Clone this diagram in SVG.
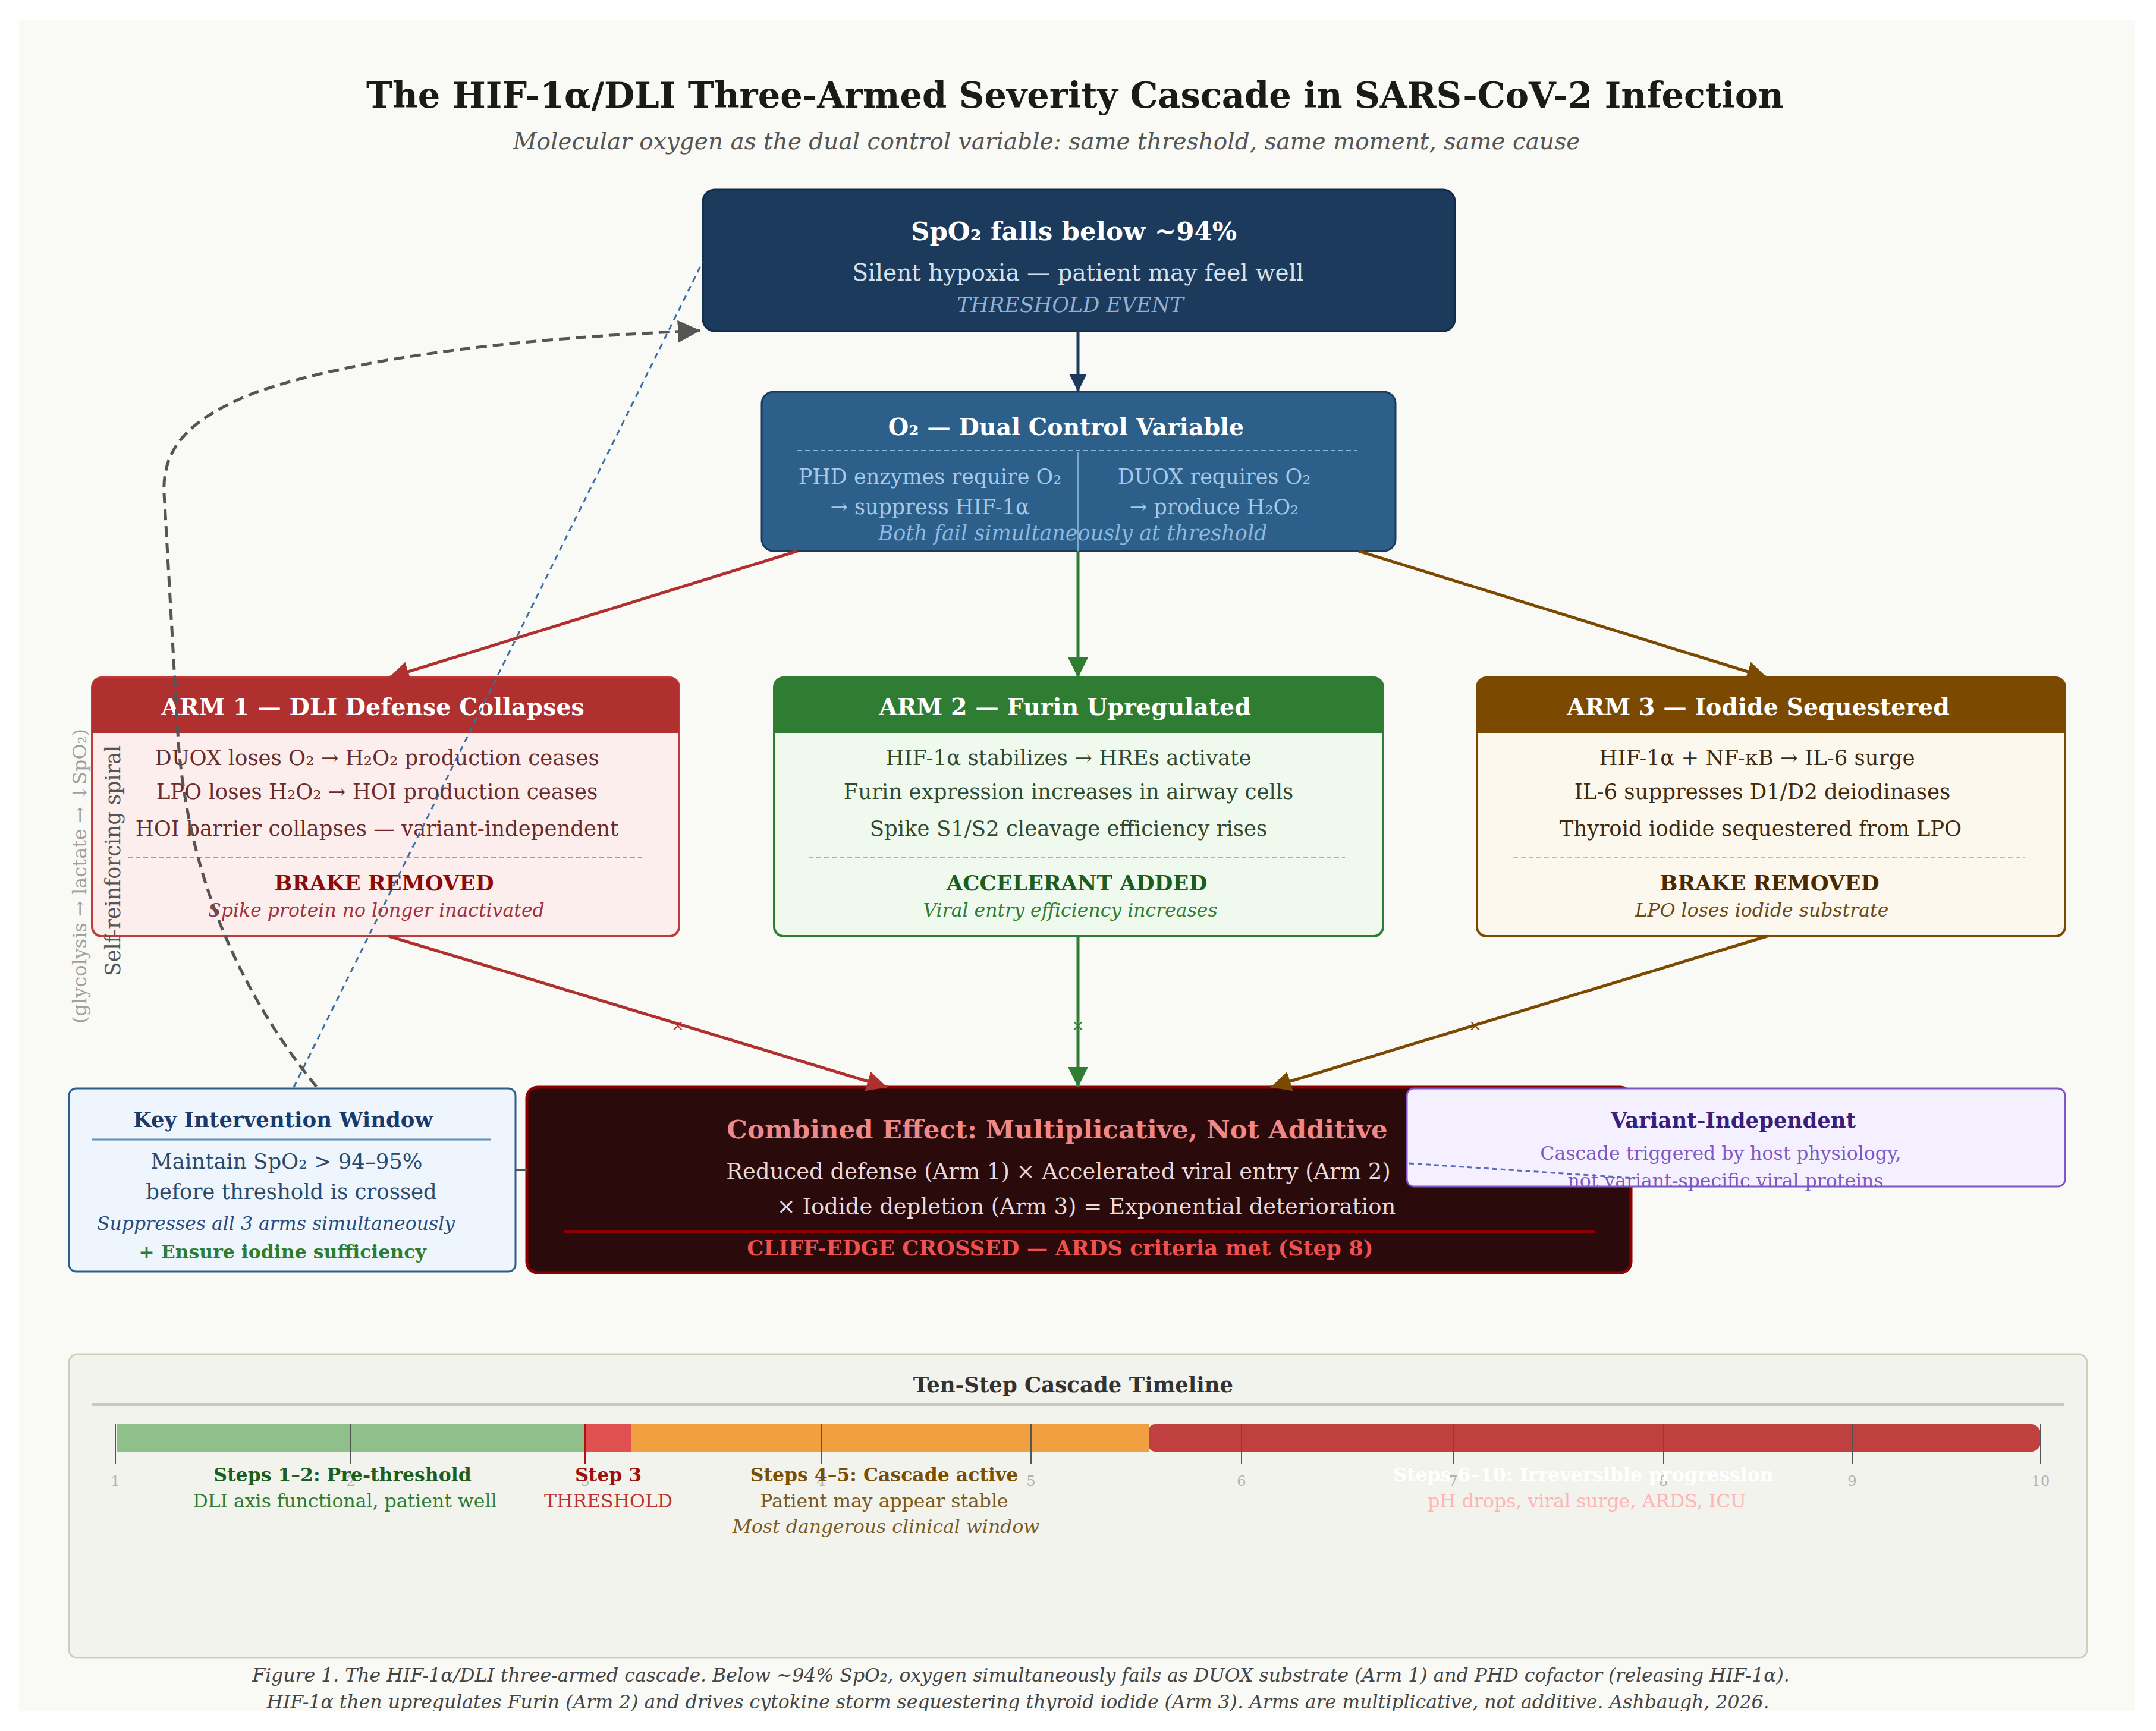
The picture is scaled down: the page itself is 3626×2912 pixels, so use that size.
<svg xmlns="http://www.w3.org/2000/svg" width="3626" height="2912" viewBox="0 0 3626 2912">
<defs>
<style>
text{font-family:"DejaVu Serif","Liberation Serif",serif;text-anchor:middle;}
.b{font-weight:bold;}
.i{font-style:italic;}
.hdr{font-size:39.5px;font-weight:bold;fill:#ffffff;}
.body{font-size:35.5px;}
.tag{font-size:35.5px;font-weight:bold;}
.sub{font-size:31.5px;font-style:italic;}
.tl{font-size:31.5px;}
.tick{font-size:24px;fill:#b0b0b0;}
.ax{stroke:#555;stroke-width:2;}
</style>
<marker id="mNavy" viewBox="0 0 10 10" refX="10" refY="5" markerWidth="30" markerHeight="30" markerUnits="userSpaceOnUse" orient="auto"><path d="M0,0 L10,5 L0,10 z" fill="#1b3a5c"/></marker>
<marker id="mRed" viewBox="0 0 10 10" refX="10" refY="5" markerWidth="34" markerHeight="34" markerUnits="userSpaceOnUse" orient="auto"><path d="M0,0 L10,5 L0,10 z" fill="#b03030"/></marker>
<marker id="mGreen" viewBox="0 0 10 10" refX="10" refY="5" markerWidth="34" markerHeight="34" markerUnits="userSpaceOnUse" orient="auto"><path d="M0,0 L10,5 L0,10 z" fill="#2e7d32"/></marker>
<marker id="mBrown" viewBox="0 0 10 10" refX="10" refY="5" markerWidth="34" markerHeight="34" markerUnits="userSpaceOnUse" orient="auto"><path d="M0,0 L10,5 L0,10 z" fill="#7b4a00"/></marker>
<marker id="mGray" viewBox="0 0 10 10" refX="10" refY="5" markerWidth="38" markerHeight="38" markerUnits="userSpaceOnUse" orient="auto"><path d="M0,0 L10,5 L0,10 z" fill="#555555"/></marker>
<clipPath id="panelClip"><rect x="32" y="33" width="3558" height="2845"/></clipPath>
</defs>
<rect width="3626" height="2912" fill="#ffffff"/>
<g clip-path="url(#panelClip)">
<rect x="32" y="33" width="3558" height="2845" fill="#f9f9f6"/>

<text x="1808" y="181" class="b" font-size="59" fill="#1a1a1a">The HIF-1α/DLI Three-Armed Severity Cascade in SARS-CoV-2 Infection</text>
<text x="1760" y="251" class="i" font-size="39" fill="#555555">Molecular oxygen as the dual control variable: same threshold, same moment, same cause</text>

<g id="node-spo2">
<rect x="1182" y="319" width="1265" height="238" rx="20" fill="#1b3a5c" stroke="#112c48" stroke-width="3"/>
<text x="1806" y="404" class="b" font-size="43.5" fill="#ffffff">SpO₂ falls below ~94%</text>
<text x="1813" y="472" font-size="39" fill="#d4e0ec">Silent hypoxia — patient may feel well</text>
<text x="1800" y="525" class="i" font-size="35" fill="#8fb0d8">THRESHOLD EVENT</text>
</g>

<g id="node-o2">
<rect x="1281" y="659" width="1066" height="268" rx="20" fill="#2c5f8a" stroke="#1b3a5c" stroke-width="3"/>
<text x="1793" y="732" class="b" font-size="39.5" fill="#ffffff">O₂ — Dual Control Variable</text>
<line x1="1341" y1="758" x2="2282" y2="758" stroke="#8fb8e0" stroke-width="2" stroke-dasharray="8,5"/>
<line x1="1813" y1="760" x2="1813" y2="927" stroke="#7aa8d0" stroke-width="2"/>
<text x="1564" y="814" font-size="35" fill="#a8c8e8">PHD enzymes require O₂</text>
<text x="1564" y="865" font-size="35" fill="#a8c8e8">→ suppress HIF-1α</text>
<text x="2042" y="814" font-size="35" fill="#a8c8e8">DUOX requires O₂</text>
<text x="2042" y="865" font-size="35" fill="#a8c8e8">→ produce H₂O₂</text>
<text x="1804" y="909" class="i" font-size="35" fill="#8fb8e0">Both fail simultaneously at threshold</text>
</g>

<g id="node-arm1">
<rect x="155" y="1140" width="987" height="435" rx="16" fill="#fdeeee" stroke="#c03a3a" stroke-width="4"/>
<path d="M155,1233 V1156 a16,16 0 0 1 16,-16 H1126 a16,16 0 0 1 16,16 V1233 z" fill="#b03030"/>
<text x="627" y="1203" class="hdr">ARM 1 — DLI Defense Collapses</text>
<text x="634" y="1287" class="body" fill="#6b2b2b">DUOX loses O₂ → H₂O₂ production ceases</text>
<text x="634" y="1344" class="body" fill="#6b2b2b">LPO loses H₂O₂ → HOI production ceases</text>
<text x="634" y="1406" class="body" fill="#6b2b2b">HOI barrier collapses — variant-independent</text>
<line x1="215" y1="1443" x2="1080" y2="1443" stroke="#e08080" stroke-width="2" stroke-dasharray="8,5"/>
<text x="646" y="1498" class="tag" fill="#8b0a0a">BRAKE REMOVED</text>
<text x="633" y="1542" class="sub" fill="#a03040">Spike protein no longer inactivated</text>
</g>

<g id="node-arm2">
<rect x="1302" y="1140" width="1024" height="435" rx="16" fill="#f0f9ee" stroke="#2e7d32" stroke-width="4"/>
<path d="M1302,1233 V1156 a16,16 0 0 1 16,-16 H2310 a16,16 0 0 1 16,16 V1233 z" fill="#2e7d32"/>
<text x="1791" y="1203" class="hdr">ARM 2 — Furin Upregulated</text>
<text x="1797" y="1287" class="body" fill="#2f4a2f">HIF-1α stabilizes → HREs activate</text>
<text x="1797" y="1344" class="body" fill="#2f4a2f">Furin expression increases in airway cells</text>
<text x="1797" y="1406" class="body" fill="#2f4a2f">Spike S1/S2 cleavage efficiency rises</text>
<line x1="1360" y1="1443" x2="2262" y2="1443" stroke="#8fc88f" stroke-width="2" stroke-dasharray="8,5"/>
<text x="1811" y="1498" class="tag" fill="#1b5e20">ACCELERANT ADDED</text>
<text x="1800" y="1542" class="sub" fill="#2e7d32">Viral entry efficiency increases</text>
</g>

<g id="node-arm3">
<rect x="2484" y="1140" width="989" height="435" rx="16" fill="#fdf8ee" stroke="#7b4a00" stroke-width="4"/>
<path d="M2484,1233 V1156 a16,16 0 0 1 16,-16 H3457 a16,16 0 0 1 16,16 V1233 z" fill="#7b4a00"/>
<text x="2957" y="1203" class="hdr">ARM 3 — Iodide Sequestered</text>
<text x="2955" y="1287" class="body" fill="#3e2a10">HIF-1α + NF-κB → IL-6 surge</text>
<text x="2964" y="1344" class="body" fill="#3e2a10">IL-6 suppresses D1/D2 deiodinases</text>
<text x="2961" y="1406" class="body" fill="#3e2a10">Thyroid iodide sequestered from LPO</text>
<line x1="2545" y1="1443" x2="3405" y2="1443" stroke="#e0b070" stroke-width="2" stroke-dasharray="8,5"/>
<text x="2976" y="1498" class="tag" fill="#4a2a00">BRAKE REMOVED</text>
<text x="2963" y="1542" class="sub" fill="#6b4a1a">LPO loses iodide substrate</text>
</g>

<g id="node-combined">
<rect x="886" y="1829" width="1857" height="312" rx="18" fill="#2a0a0a" stroke="#8b0000" stroke-width="5"/>
<text x="1778" y="1915" class="b" font-size="43.5" fill="#f08888">Combined Effect: Multiplicative, Not Additive</text>
<text x="1780" y="1983" font-size="37" fill="#e8dada">Reduced defense (Arm 1) × Accelerated viral entry (Arm 2)</text>
<text x="1827" y="2042" font-size="37" fill="#e8dada">× Iodide depletion (Arm 3) = Exponential deterioration</text>
<line x1="948" y1="2072" x2="2682" y2="2072" stroke="#8b0000" stroke-width="4"/>
<text x="1783" y="2112" class="b" font-size="35.5" fill="#f05050">CLIFF-EDGE CROSSED — ARDS criteria met (Step 8)</text>
</g>

<g id="node-variant">
<rect x="2366" y="1831" width="1107" height="165" rx="12" fill="#f4f0ff" stroke="#7e57c2" stroke-width="3"/>
<text x="2915" y="1897" class="b" font-size="35.5" fill="#3a1f7a">Variant-Independent</text>
<text x="2894" y="1951" font-size="31.5" fill="#7e57c2">Cascade triggered by host physiology,</text>
<text x="2902" y="1997" font-size="31.5" fill="#7e57c2">not variant-specific viral proteins</text>
</g>

<g id="node-intervention">
<rect x="116" y="1831" width="751" height="308" rx="12" fill="#eef5fc" stroke="#2c5f8a" stroke-width="3"/>
<text x="476" y="1896" class="b" font-size="35.5" fill="#1a3a6c">Key Intervention Window</text>
<line x1="155" y1="1917" x2="826" y2="1917" stroke="#5a8fbf" stroke-width="3"/>
<text x="482" y="1966" font-size="35.5" fill="#2a4a6c">Maintain SpO₂ &gt; 94–95%</text>
<text x="490" y="2017" font-size="35.5" fill="#2a4a6c">before threshold is crossed</text>
<text x="464" y="2069" class="i" font-size="31.5" fill="#2a4a7c">Suppresses all 3 arms simultaneously</text>
<text x="475" y="2117" class="b" font-size="31.5" fill="#2e7d32">+ Ensure iodine sufficiency</text>
</g>

<g id="connectors" fill="none">
<line x1="1813" y1="557" x2="1813" y2="659" stroke="#1b3a5c" stroke-width="5" marker-end="url(#mNavy)"/>
<line x1="1341" y1="927" x2="654" y2="1140" stroke="#b03030" stroke-width="5" marker-end="url(#mRed)"/>
<line x1="1813" y1="927" x2="1813" y2="1140" stroke="#2e7d32" stroke-width="5" marker-end="url(#mGreen)"/>
<line x1="2285" y1="927" x2="2972" y2="1140" stroke="#7b4a00" stroke-width="5" marker-end="url(#mBrown)"/>
<line x1="654" y1="1575" x2="1492" y2="1829" stroke="#b03030" stroke-width="5" marker-end="url(#mRed)"/>
<line x1="1813" y1="1575" x2="1813" y2="1829" stroke="#2e7d32" stroke-width="5" marker-end="url(#mGreen)"/>
<line x1="2972" y1="1575" x2="2137" y2="1829" stroke="#7b4a00" stroke-width="5" marker-end="url(#mBrown)"/>
<line x1="867" y1="1968" x2="886" y2="1968" stroke="#555555" stroke-width="4"/>
<line x1="2370" y1="1957" x2="2750" y2="1982" stroke="#5a6ab8" stroke-width="3" stroke-dasharray="8,6"/>
<line x1="494" y1="1829" x2="1182" y2="440" stroke="#3a6ea5" stroke-width="3" stroke-dasharray="10,8"/>
<path d="M532,1828 C420,1690 320,1500 300,1250 L276,830 C272,745 330,700 430,660 C620,595 900,568 1178,556" stroke="#555555" stroke-width="5" stroke-dasharray="18,10" marker-end="url(#mGray)"/>
<text x="1140" y="1734" font-size="26" fill="#b03030" stroke="none">×</text>
<text x="1813" y="1734" font-size="26" fill="#2e7d32" stroke="none">×</text>
<text x="2481" y="1734" font-size="26" fill="#7b4a00" stroke="none">×</text>
<text transform="translate(202,1448) rotate(-90)" font-size="35" fill="#555555" stroke="none">Self-reinforcing spiral</text>
<text transform="translate(145,1474) rotate(-90)" font-size="32" fill="#a0a0a0" stroke="none">(glycolysis → lactate → ↓SpO₂)</text>
</g>

<g id="node-timeline">
<rect x="116" y="2278" width="3394" height="511" rx="14" fill="#f3f3ee" stroke="#cfcfb8" stroke-width="3"/>
<text x="1805" y="2342" class="b" font-size="35.5" fill="#333333">Ten-Step Cascade Timeline</text>
<line x1="155" y1="2363" x2="3471" y2="2363" stroke="#c8c8c0" stroke-width="4"/>
<rect x="196" y="2396" width="788" height="46" fill="#8fbf8a"/>
<rect x="984" y="2396" width="78" height="46" fill="#e05050"/>
<rect x="1062" y="2396" width="870" height="46" fill="#f0a040"/>
<path d="M1942,2396 H3416 a16,16 0 0 1 16,16 V2426 a16,16 0 0 1 -16,16 H1942 a10,10 0 0 1 -10,-10 V2406 a10,10 0 0 1 10,-10 z" fill="#c04040"/>
<line x1="194" y1="2396" x2="194" y2="2462" class="ax"/>
<line x1="590" y1="2396" x2="590" y2="2462" class="ax"/>
<line x1="984" y1="2396" x2="984" y2="2462" stroke="#b01010" stroke-width="3"/>
<line x1="1381" y1="2396" x2="1381" y2="2462" class="ax"/>
<line x1="1734" y1="2396" x2="1734" y2="2462" class="ax"/>
<line x1="2088" y1="2396" x2="2088" y2="2462" class="ax"/>
<line x1="2444" y1="2396" x2="2444" y2="2462" class="ax"/>
<line x1="2798" y1="2396" x2="2798" y2="2462" class="ax"/>
<line x1="3115" y1="2396" x2="3115" y2="2462" class="ax"/>
<line x1="3432" y1="2396" x2="3432" y2="2462" class="ax"/>
<text x="194" y="2500" class="tick">1</text>
<text x="590" y="2500" class="tick">2</text>
<text x="984" y="2500" class="tick">3</text>
<text x="1381" y="2500" class="tick">4</text>
<text x="1734" y="2500" class="tick">5</text>
<text x="2088" y="2500" class="tick">6</text>
<text x="2444" y="2500" class="tick">7</text>
<text x="2798" y="2500" class="tick">8</text>
<text x="3115" y="2500" class="tick">9</text>
<text x="3432" y="2500" class="tick">10</text>
<text x="576" y="2492" class="tl b" fill="#1b5e20">Steps 1–2: Pre-threshold</text>
<text x="580" y="2536" class="tl" fill="#2e7d32">DLI axis functional, patient well</text>
<text x="1023" y="2492" class="tl b" fill="#a01010">Step 3</text>
<text x="1023" y="2536" class="tl" fill="#c03030">THRESHOLD</text>
<text x="1487" y="2492" class="tl b" fill="#7a5000">Steps 4–5: Cascade active</text>
<text x="1487" y="2536" class="tl" fill="#7a5a20">Patient may appear stable</text>
<text x="1490" y="2579" class="tl i" fill="#7a5a20">Most dangerous clinical window</text>
<text x="2663" y="2492" class="tl b" fill="#ffffff">Steps 6–10: Irreversible progression</text>
<text x="2669" y="2536" class="tl" fill="#ffb4b4">pH drops, viral surge, ARDS, ICU</text>
</g>

<text x="1717" y="2829" class="i" font-size="31.5" fill="#444444">Figure 1. The HIF-1α/DLI three-armed cascade. Below ~94% SpO₂, oxygen simultaneously fails as DUOX substrate (Arm 1) and PHD cofactor (releasing HIF-1α).</text>
<text x="1712" y="2874" class="i" font-size="31.5" fill="#444444">HIF-1α then upregulates Furin (Arm 2) and drives cytokine storm sequestering thyroid iodide (Arm 3). Arms are multiplicative, not additive. Ashbaugh, 2026.</text>
</g>
</svg>
